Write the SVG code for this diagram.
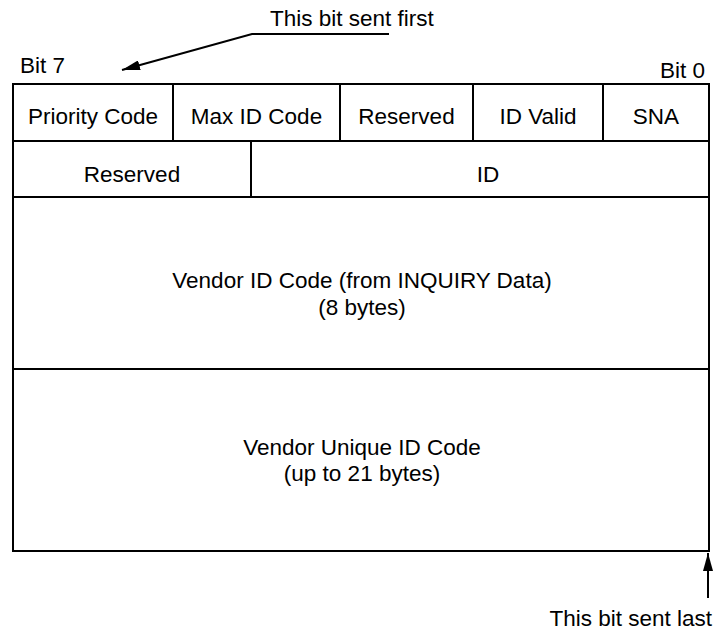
<svg xmlns="http://www.w3.org/2000/svg" width="715" height="635" viewBox="0 0 715 635">
<style>
text{font-family:"Liberation Sans",Arial,sans-serif;font-size:22.5px;fill:#000}
.c{text-anchor:middle}
.box{fill:#fff;stroke:#000;stroke-width:2}
.ln{fill:none;stroke:#000;stroke-width:2}
</style>
<defs>
<marker id="ah2" markerWidth="18" markerHeight="10" refX="18" refY="5" orient="auto" markerUnits="userSpaceOnUse">
<path d="M0,0 L18,5 L0,10 Z" fill="#000"/>
</marker>
</defs>
<rect width="715" height="635" fill="#fff"/>
<g id="frame">
<rect class="box" x="13" y="84" width="696" height="467"/>
<line class="ln" x1="13" y1="141" x2="709" y2="141"/>
<line class="ln" x1="13" y1="197" x2="709" y2="197"/>
<line class="ln" x1="13" y1="369" x2="709" y2="369"/>
</g>
<g id="priority-code"><line class="ln" x1="173" y1="84" x2="173" y2="141"/><text class="c" x="93" y="124">Priority Code</text></g>
<g id="max-id-code"><line class="ln" x1="340" y1="84" x2="340" y2="141"/><text class="c" x="256.5" y="124">Max ID Code</text></g>
<g id="reserved-1"><line class="ln" x1="473" y1="84" x2="473" y2="141"/><text class="c" x="406.5" y="124">Reserved</text></g>
<g id="id-valid"><line class="ln" x1="603" y1="84" x2="603" y2="141"/><text class="c" x="538" y="124">ID Valid</text></g>
<g id="sna"><text class="c" x="656" y="124">SNA</text></g>
<g id="reserved-2"><line class="ln" x1="251" y1="141" x2="251" y2="197"/><text class="c" x="132" y="182">Reserved</text></g>
<g id="id"><text class="c" x="488" y="182">ID</text></g>
<g id="vendor-id"><text class="c" x="362" y="288">Vendor ID Code (from INQUIRY Data)</text><text class="c" x="362" y="315">(8 bytes)</text></g>
<g id="vendor-unique"><text class="c" x="362" y="455">Vendor Unique ID Code</text><text class="c" x="362" y="481">(up to 21 bytes)</text></g>
<g id="labels">
<text x="20" y="73">Bit 7</text>
<text x="705" y="78" text-anchor="end">Bit 0</text>
<text x="270" y="26">This bit sent first</text>
<text x="712" y="626" text-anchor="end">This bit sent last</text>
</g>
<g id="connectors">
<polyline class="ln" points="389,34 252,34 122,70" marker-end="url(#ah2)"/>
<line class="ln" x1="708" y1="598" x2="708" y2="553" marker-end="url(#ah2)"/>
</g>
</svg>
